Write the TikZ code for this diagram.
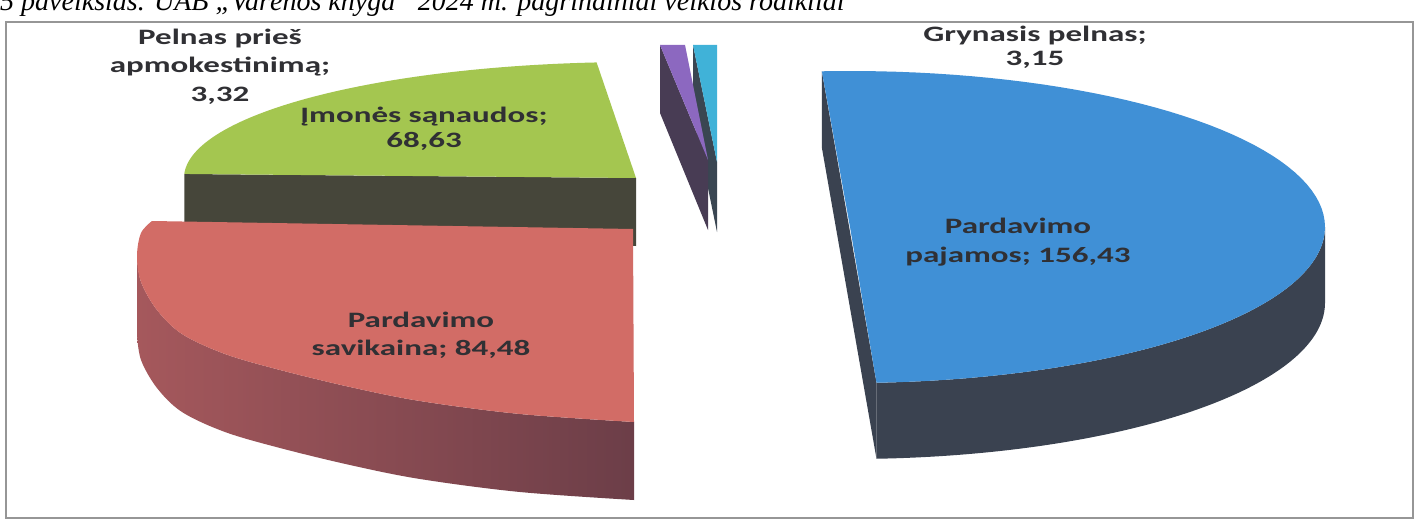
\documentclass[tikz,border=0pt]{standalone}
\usepackage{fontspec}
\setmainfont{Carlito}
\newfontfamily\chartfont{Carlito}[FakeStretch=1.5]
\newfontfamily\capfont{Liberation Serif}
\definecolor{blueTop}{RGB}{64,144,214}
\definecolor{blueSide}{RGB}{58,66,80}
\definecolor{redTop}{RGB}{210,108,102}
\definecolor{redSideL}{RGB}{165,88,92}
\definecolor{redSideR}{RGB}{108,62,72}
\definecolor{greenTop}{RGB}{164,198,80}
\definecolor{greenSide}{RGB}{70,70,58}
\definecolor{purpleTop}{RGB}{140,104,192}
\definecolor{purpleSide}{RGB}{72,60,84}
\definecolor{cyanTop}{RGB}{64,178,216}
\definecolor{cyanSide}{RGB}{58,70,82}
\definecolor{labelInk}{RGB}{48,48,52}
\definecolor{frameGray}{RGB}{150,150,150}
\tikzset{
  lbl/.style={anchor=base, inner sep=0pt, text=labelInk,
    font=\chartfont\bfseries\fontsize{22}{26}\selectfont},
  arcsmp/.style={samples=80, variable=\t},
}
\begin{document}
\begin{tikzpicture}[x=1pt,y=-1pt]
\useasboundingbox (0,0) rectangle (1419,527);
\fill[white] (0,0) rectangle (1419,527);
\node[anchor=base west, inner sep=0pt, font=\capfont\itshape\fontsize{28}{30}\selectfont] (caption) at (0,11)
  {5 paveikslas. UAB „Varėnos knyga“ 2024 m. pagrindiniai veiklos rodikliai};
\draw[frameGray, line width=1.4pt] (6,22) rectangle (1413,518);

% green slice
\fill[greenSide] (184.3,174) -- (636,178) -- (636,246) -- (184.3,242) -- cycle;
\fill[greenTop] (636,178) -- plot[arcsmp, domain=-95:-178] ({636+452*cos(\t)},{178+116*sin(\t)}) -- cycle;

% red slice
\shade[left color=redSideL, right color=redSideR]
  plot[smooth, tension=0.55] coordinates {(137,256) (141,282) (157,310) (182,334) (225,354) (280,370) (350,387) (420,401) (520,414) (634,422)}
  -- plot[smooth, tension=0.55] coordinates {(634,500) (520,492) (420,479) (350,465) (280,448) (225,432) (182,412) (157,388) (141,360) (137,334)}
  -- cycle;
\fill[redTop] (633,229)
  -- plot[smooth, tension=0.55] coordinates {(152,221) (141,233) (137,256) (141,282) (157,310) (182,334) (225,354) (280,370) (350,387) (420,401) (520,414) (634,422)}
  -- cycle;

% cyan and purple slivers
\fill[cyanSide] (693,45) -- (717,162) -- (717,232) -- (693,115) -- cycle;
\fill[cyanTop] (693,45) -- (717,45) -- (717,162) -- cycle;
\fill[purpleSide] (660,45) -- (708,160) -- (708,230) -- (660,113) -- cycle;
\fill[purpleTop] (660,45) -- (685,45) -- (708,160) -- cycle;

% blue slice
\fill[blueSide] plot[arcsmp, domain=0:86.8] ({850+475*cos(\t)},{227+156*sin(\t)})
  -- plot[arcsmp, domain=86.8:0] ({850+475*cos(\t)},{303+156*sin(\t)}) -- cycle;
\fill[blueSide] (821.8,71.3) -- (876.5,382.8) -- (876.5,458.8) -- (821.8,147.3) -- cycle;
\fill[blueTop] (850,227) -- plot[arcsmp, domain=86.8:-93.4] ({850+475*cos(\t)},{227+156*sin(\t)}) -- cycle;

% labels
\node[lbl] (pel1) at (220,45) {Pelnas prieš};
\node[lbl] (pel2) at (220,73) {apmokestinimą;};
\node[lbl] (pel3) at (220,102) {3,32};
\node[lbl] (im1) at (424,122) {Įmonės sąnaudos;};
\node[lbl] (im2) at (424,147) {68,63};
\node[lbl] (gr1) at (1035,42) {Grynasis pelnas;};
\node[lbl] (gr2) at (1035,66) {3,15};
\node[lbl] (bp1) at (1018,233) {Pardavimo};
\node[lbl] (bp2) at (1018,262) {pajamos; 156,43};
\node[lbl] (rs1) at (421,327) {Pardavimo};
\node[lbl] (rs2) at (421,355) {savikaina; 84,48};
\end{tikzpicture}
\end{document}
